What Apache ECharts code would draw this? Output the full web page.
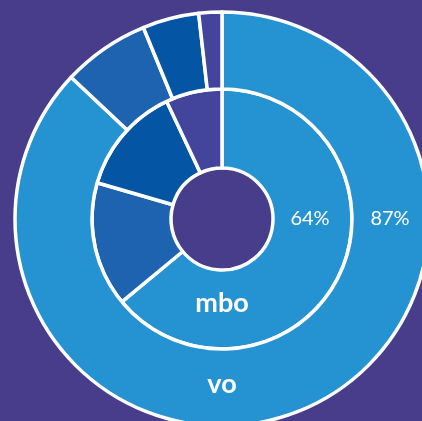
<!DOCTYPE html>
<html>
<head>
<meta charset="utf-8">
<script src="https://cdn.jsdelivr.net/npm/echarts@6/dist/echarts.min.js"></script>
<style>
  html, body { margin: 0; padding: 0; background: #483d8b; }
  #chart { width: 422px; height: 421px; }
</style>
</head>
<body>
<div id="chart"></div>
<script>
// slice names / values, clockwise from 12 o'clock
var segNames = ['main', 'seg2', 'seg3', 'seg4']
var innerValues = [64, 15.5, 13.5, 7]
var outerValues = [87, 6.8, 4.4, 1.8]
var segColors = ['#2592d1', '#1d63af', '#0455a4', '#43449c']
var innerLabel = '64%'
var outerLabel = '87%'
var innerName = 'mbo'
var outerName = 'vo'

var cx = 222, cy = 219

function buildData(values) {
  var arr = []
  for (var i = 0; i < values.length; i++) {
    arr.push({ name: segNames[i], value: values[i], itemStyle: { color: segColors[i] } })
  }
  return arr
}

function label(text, x, y, size, weight) {
  return {
    type: 'text', x: x, y: y, z: 100,
    style: {
      text: text, fill: '#fff', fontFamily: 'Lato', fontSize: size, fontWeight: weight,
      align: 'center', verticalAlign: 'middle'
    }
  }
}

var myChart = echarts.init(document.getElementById('chart'))
var option = {
  backgroundColor: '#483d8b',
  animation: false,
  series: [{
    type: 'pie',
    center: [cx, cy],
    radius: [51, 130],
    startAngle: 90,
    clockwise: true,
    silent: true,
    label: { show: false },
    labelLine: { show: false },
    itemStyle: { borderColor: '#fff', borderWidth: 3.5 },
    data: buildData(innerValues)
  }, {
    type: 'pie',
    center: [cx, cy],
    radius: [130, 207],
    startAngle: 90,
    clockwise: true,
    silent: true,
    label: { show: false },
    labelLine: { show: false },
    itemStyle: { borderColor: '#fff', borderWidth: 3.5 },
    data: buildData(outerValues)
  }],
  graphic: [
    label(innerLabel, 310, 219, 20, 'normal'),
    label(outerLabel, 390, 219, 20, 'normal'),
    label(innerName, 222, 303, 27, 'bold'),
    label(outerName, 222, 384, 27, 'bold')
  ]
}
myChart.setOption(option)
</script>
</body>
</html>
